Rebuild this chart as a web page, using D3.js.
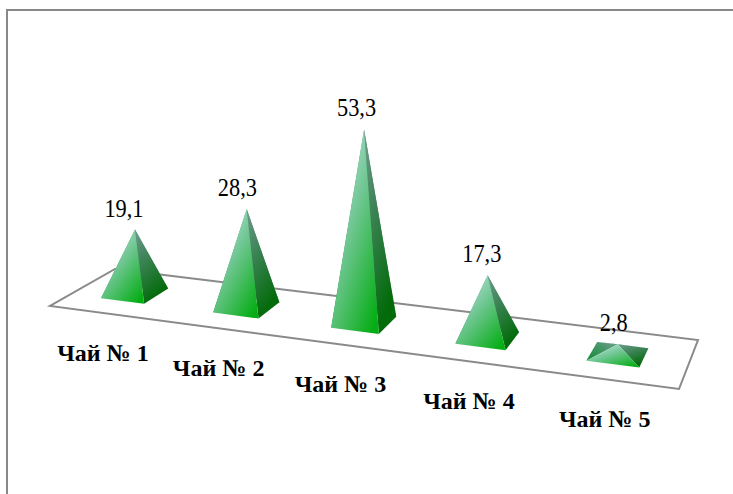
<!DOCTYPE html>
<html>
<head>
<meta charset="utf-8">
<script src="https://cdn.jsdelivr.net/npm/d3@7"></script>
<style>
body { margin: 0; background: #fff; }
svg { display: block; }
</style>
</head>
<body>
<script>
var categories = ['Чай № 1', 'Чай № 2', 'Чай № 3', 'Чай № 4', 'Чай № 5'];
var values = [19.1, 28.3, 53.3, 17.3, 2.8];
var valueLabels = ['19,1', '28,3', '53,3', '17,3', '2,8'];

var svg = d3.select('body').append('svg').attr('width', 733).attr('height', 494);

// chart frame, only top and left sides are in the picture
svg.append('path').attr('d', 'M7,494V10H733').attr('fill', 'none').attr('stroke', '#888').attr('stroke-width', 2);

// floor corners on screen: back-left, back-right, front-right, front-left
var quad = [[115, 269], [698, 340], [679, 389], [50, 306]];

// unit square -> floor quad (perspective)
var sx = quad[0][0] - quad[1][0] + quad[2][0] - quad[3][0];
var sy = quad[0][1] - quad[1][1] + quad[2][1] - quad[3][1];
var dx1 = quad[1][0] - quad[2][0], dx2 = quad[3][0] - quad[2][0];
var dy1 = quad[1][1] - quad[2][1], dy2 = quad[3][1] - quad[2][1];
var den = dx1 * dy2 - dx2 * dy1;
var g = (sx * dy2 - dx2 * sy) / den;
var h = (dx1 * sy - sx * dy1) / den;
function project(u, v) {
    var w = g * u + h * v + 1;
    return [
        ((quad[1][0] - quad[0][0] + g * quad[1][0]) * u + (quad[3][0] - quad[0][0] + h * quad[3][0]) * v + quad[0][0]) / w,
        ((quad[1][1] - quad[0][1] + g * quad[1][1]) * u + (quad[3][1] - quad[0][1] + h * quad[3][1]) * v + quad[0][1]) / w
    ];
}

var x = d3.scaleBand().domain(categories).range([-0.005, 0.995]).paddingInner(0.61).paddingOuter(0.305);
var y = d3.scaleLinear().domain([0, 53.3]).range([0, 193]);
var depth = d3.scaleLinear().domain([0, 1]).range([0.3, 0.7]);
// things further back come out a bit shorter
var persp = d3.scaleLinear().domain([0.1, 0.5]).range([0.92, 1]).clamp(true);
// value labels sit left of the apex, less so toward the right
var labelShift = d3.scaleLinear().domain([0.1, 0.9]).range([-11, -4]);

var line = d3.line();
var defs = svg.append('defs');
function grad(id, x1, y1, x2, y2, stops) {
    var gr = defs.append('linearGradient').attr('id', id)
        .attr('x1', x1).attr('y1', y1).attr('x2', x2).attr('y2', y2);
    stops.forEach(function (s) {
        gr.append('stop').attr('offset', s[0]).attr('stop-color', s[1]);
    });
}
grad('front', 0.1, 0, 0.85, 1, [[0, '#c4ebe6'], [0.45, '#72c795'], [1, '#05ad14']]);
grad('right', 0, 0, 0.4, 1, [[0, '#6e9c8e'], [0.5, '#36804e'], [1, '#036b0a']]);
grad('back', 0, 0, 1, 1, [[0, '#4f8069'], [1, '#6d9a8c']]);
grad('left', 1, 0, 0, 1, [[0, '#6fa090'], [1, '#0f8a30']]);

var pyramids = svg.append('g');

// floor first
pyramids.append('path').attr('d', line(quad) + 'Z')
    .attr('fill', '#fff').attr('stroke', '#8a8a8a').attr('stroke-width', 2).attr('stroke-linejoin', 'miter');

categories.forEach(function (c, i) {
    var u0 = x(c), u1 = x(c) + x.bandwidth(), uc = (u0 + u1) / 2;
    var fl = project(u0, depth(1)), fr = project(u1, depth(1));
    var br = project(u1, depth(0)), bl = project(u0, depth(0));
    var base = project(uc, 0.5);
    var apex = [base[0], base[1] - y(values[i]) * persp(uc)];

    var gp = pyramids.append('g');
    gp.append('path').attr('d', line([apex, bl, br]) + 'Z').attr('fill', 'url(#back)');
    gp.append('path').attr('d', line([apex, bl, fl]) + 'Z').attr('fill', 'url(#left)');
    gp.append('path').attr('d', line([apex, fr, br]) + 'Z').attr('fill', 'url(#right)');
    gp.append('path').attr('d', line([apex, fl, fr]) + 'Z').attr('fill', 'url(#front)');

    svg.append('text')
        .attr('transform', 'translate(' + (apex[0] + labelShift(uc)) + ',' + (apex[1] - 13) + ') scale(0.86,1)')
        .attr('text-anchor', 'middle')
        .style('font-family', '"Liberation Serif"').style('font-size', '26px').attr('fill', '#000')
        .text(valueLabels[i]);

    var lab = project(uc, 1);
    svg.append('text').attr('x', lab[0]).attr('y', lab[1] + 48)
        .attr('text-anchor', 'middle')
        .style('font-family', '"Liberation Serif"').style('font-weight', 'bold').style('font-size', '24px').attr('fill', '#000')
        .text(c);
});
</script>
</body>
</html>
